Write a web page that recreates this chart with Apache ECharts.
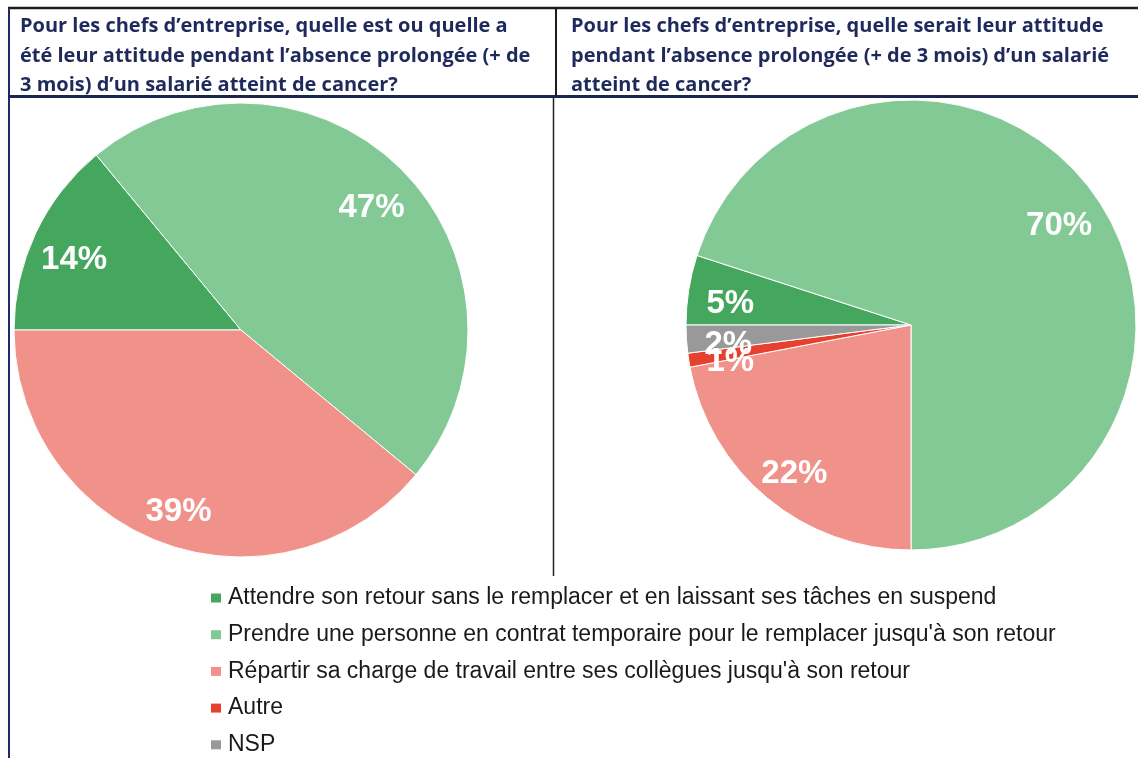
<!DOCTYPE html>
<html>
<head>
<meta charset="utf-8">
<script src="https://cdn.jsdelivr.net/npm/echarts@6/dist/echarts.min.js"></script>
<style>
    html, body { margin: 0; padding: 0; background: #fff; }
    #chart { width: 1138px; height: 758px; }
</style>
</head>
<body>
<div id="chart"></div>
<script>
// categories (legend order)
var categories = [
    "Attendre son retour sans le remplacer et en laissant ses tâches en suspend",
    "Prendre une personne en contrat temporaire pour le remplacer jusqu'à son retour",
    "Répartir sa charge de travail entre ses collègues jusqu'à son retour",
    "Autre",
    "NSP"
];
var colors = ["#45a75e", "#83c995", "#f0928a", "#e8402f", "#999999"];
// attitude réelle (gauche) / attitude supposée (droite), en %
var valuesReal = [14, 47, 39];
var valuesHypo = [5, 70, 22, 1, 2];
var titleLeft = "Pour les chefs d’entreprise, quelle est ou quelle a\nété leur attitude pendant l’absence prolongée (+ de\n3 mois) d’un salarié atteint de cancer?";
var titleRight = "Pour les chefs d’entreprise, quelle serait leur attitude\npendant l’absence prolongée (+ de 3 mois) d’un salarié\natteint de cancer?";

function buildData(values) {
    var out = [];
    for (var i = 0; i < values.length; i++) {
        out.push({ name: categories[i], value: values[i], itemStyle: { color: colors[i] } });
    }
    return out;
}

function pieSeries(values, center, r) {
    // slices
    var solid = {
        type: 'pie',
        center: center,
        radius: [0, r],
        startAngle: 180,
        clockwise: true,
        silent: true,
        label: { show: false },
        labelLine: { show: false },
        itemStyle: { borderColor: '#ffffff', borderWidth: 1 },
        data: buildData(values)
    };
    // labels only, placed towards the rim
    var labels = {
        type: 'pie',
        center: center,
        radius: [Math.round(r * 0.6), r],
        startAngle: 180,
        clockwise: true,
        silent: true,
        avoidLabelOverlap: false,
        labelLayout: { hideOverlap: false },
        itemStyle: { color: 'transparent', borderWidth: 0 },
        label: {
            show: true,
            position: 'inside',
            formatter: '{c}%',
            offset: [0, 8],
            color: '#ffffff',
            fontSize: 33,
            fontWeight: 'bold',
            fontFamily: 'Liberation Sans, Arial, sans-serif'
        },
        labelLine: { show: false },
        data: values.map(function (v, i) { return { name: categories[i], value: v }; })
    };
    return [solid, labels];
}

var myChart = echarts.init(document.getElementById('chart'));
var titleStyle = {
    color: '#1f2a5c',
    fontSize: 20,
    fontWeight: 'bold',
    fontFamily: 'Open Sans, sans-serif',
    lineHeight: 29.5
};
var option = {
    animation: false,
    backgroundColor: '#ffffff',
    title: [
        { text: titleLeft, left: 20, top: 12, padding: 0, textStyle: titleStyle },
        { text: titleRight, left: 571, top: 12, padding: 0, textStyle: titleStyle }
    ],
    legend: {
        orient: 'vertical',
        left: 211,
        top: 586.5,
        height: 200,
        padding: 0,
        itemWidth: 10,
        itemHeight: 9,
        itemGap: 13.7,
        icon: 'rect',
        selectedMode: false,
        itemStyle: { borderWidth: 0 },
        textStyle: {
            color: '#1a1a1a',
            fontSize: 23,
            lineHeight: 23,
            padding: [0, 0, 0, 2],
            fontFamily: 'Liberation Sans, Arial, sans-serif'
        },
        data: categories.map(function (c, i) {
            return { name: c, itemStyle: { color: colors[i], borderWidth: 0 } };
        })
    },
    graphic: [
        { type: 'line', silent: true, shape: { x1: 8, y1: 8, x2: 1138, y2: 8 }, style: { stroke: '#1c1c1c', lineWidth: 2.5 } },
        { type: 'line', silent: true, shape: { x1: 9, y1: 8, x2: 9, y2: 758 }, style: { stroke: '#1f2a6b', lineWidth: 2 } },
        { type: 'line', silent: true, shape: { x1: 556, y1: 8, x2: 556, y2: 96 }, style: { stroke: '#1c1c1c', lineWidth: 2 } },
        { type: 'line', silent: true, shape: { x1: 8, y1: 96.5, x2: 1138, y2: 96.5 }, style: { stroke: '#1c2450', lineWidth: 3 } },
        { type: 'line', silent: true, shape: { x1: 553.5, y1: 98, x2: 553.5, y2: 576 }, style: { stroke: '#222222', lineWidth: 1.5 } }
    ],
    series: pieSeries(valuesReal, [241, 330], 227).concat(pieSeries(valuesHypo, [911, 325], 225))
};
myChart.setOption(option);
</script>
</body>
</html>
